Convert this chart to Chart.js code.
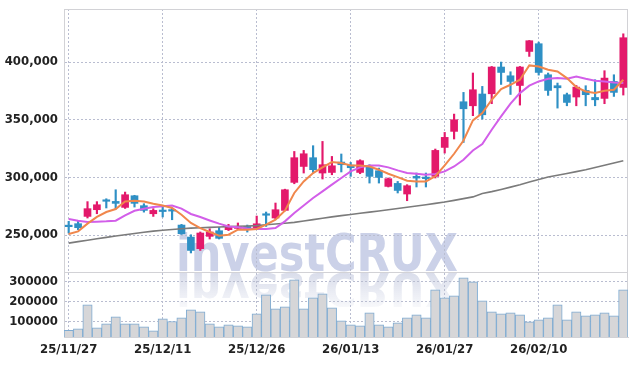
<!DOCTYPE html>
<html><head><meta charset="utf-8">
<script src="https://cdn.jsdelivr.net/npm/chart.js@4.4.1/dist/chart.umd.min.js"></script>
<style>html,body{margin:0;padding:0;background:#fff}#wrap{width:637px;height:366px}</style>
</head><body><div id="wrap"><canvas id="c" width="637" height="366"></canvas></div>
<script>
const dates = ['25/11/27','25/11/28','25/12/01','25/12/02','25/12/03','25/12/04','25/12/05','25/12/08','25/12/09','25/12/10',
'25/12/11','25/12/12','25/12/15','25/12/16','25/12/17','25/12/18','25/12/19','25/12/22','25/12/23','25/12/24',
'25/12/26','25/12/29','25/12/30','26/01/02','26/01/05','26/01/06','26/01/07','26/01/08','26/01/09','26/01/12',
'26/01/13','26/01/14','26/01/15','26/01/16','26/01/19','26/01/20','26/01/21','26/01/22','26/01/23','26/01/26',
'26/01/27','26/01/28','26/01/29','26/01/30','26/02/02','26/02/03','26/02/04','26/02/05','26/02/06','26/02/09',
'26/02/10','26/02/11','26/02/12','26/02/13','26/02/19','26/02/20','26/02/23','26/02/24','26/02/25','26/02/26'];
const opens = [257800,259900,266200,272000,279800,279200,274000,284100,275500,268500,
271000,271300,258700,248300,238200,248900,253800,254700,255800,257500,
255600,267800,264800,271400,295700,309500,317100,303800,304300,313300,
310700,304300,309000,305800,292200,294800,285600,300900,300300,300900,
326000,339900,365600,362100,372300,372500,395700,388100,379700,409200,
415900,389000,379500,371700,369700,375400,369300,368500,383200,378000];
const highs = [261900,262700,279000,279000,281500,289300,287300,284500,277200,272900,
274300,273500,259300,250300,252700,255500,256700,259300,260500,258700,
266500,270000,277800,289800,322500,323400,327500,331200,318200,320300,
313000,315300,311000,308100,299500,296500,293700,303800,303800,324600,
339000,354900,373700,390500,378900,396200,400000,391600,396200,418700,
417300,390500,381800,373100,379700,379500,384700,392500,389000,424500];
const lows = [251800,254700,264800,268500,273500,272600,273100,274300,269900,266200,
265700,263300,250600,234500,236700,246600,246600,253900,254700,252600,
254700,257500,264000,270900,294500,303800,304300,298600,302300,304700,
300900,303200,295100,295100,291700,286500,279800,291700,291700,299500,
321100,333300,330300,353500,350600,363900,380600,371900,362700,404900,
388700,371100,360100,362100,362100,362100,362100,363900,370200,371400];
const closes = [257300,256400,272900,276300,279300,277500,285000,277500,271400,271400,
270400,270800,251200,236700,251800,252700,247200,257000,257500,254700,
259800,267200,272000,289300,317100,320500,306700,311000,310100,311000,
308400,314500,300900,300000,298900,288700,292800,299400,298900,323400,
334700,350000,359500,376000,354300,395700,391000,383200,395700,418500,
391000,375400,377700,365000,378300,371700,367300,386100,373700,421100];
const volumes = [54300,61400,183200,66500,86800,122300,86800,86800,71600,51300,
112200,98500,117200,157800,147700,86800,71600,81700,76600,71600,
137500,234000,162900,173100,310200,162900,218800,239000,168000,102000,
81700,76600,142600,81700,71600,91900,117200,132500,117200,259400,
218800,228900,320300,300000,203600,147700,137500,142600,132500,96900,
107100,117200,183200,107100,147700,127400,132500,142600,127400,259400];
const ma5 = [251000,253200,259900,265700,270000,272600,279200,279800,279200,277200,
275700,273500,267700,260500,256100,252700,249500,250300,254700,254700,
255300,259000,263300,271100,286500,296500,303800,308700,313300,312500,
310400,310400,309500,306700,303200,300300,297100,296500,296500,301000,
310400,320500,332000,349400,355800,367300,376600,380300,384700,397100,
396200,393300,391900,386100,378300,374500,373100,375100,376000,384700];
const ma10 = [264000,262500,261400,261600,261900,262500,267100,271100,272900,274300,
274900,275700,272900,268300,265700,262700,259900,257500,256700,255800,
255300,255300,256100,261900,269100,275700,282100,287900,293700,299500,
305200,308700,310400,310400,308700,306100,303800,303200,302300,303000,
305200,309500,315300,323400,328900,341300,352900,363900,373100,379500,
383200,385500,386100,385500,387500,385500,383800,383200,382300,381800];
const ma60 = [243000,244300,245500,246800,248000,249200,250300,251400,252400,253400,
254200,254900,255500,256000,256400,256700,257000,257300,257600,257900,
258200,258900,259600,260300,261000,262200,263400,264600,265800,266900,
267900,268900,269900,270900,272000,273100,274200,275200,276300,277500,
278700,280100,281600,283100,286000,287700,289600,291600,293700,296000,
298200,300300,301800,303400,305000,306700,308600,310500,312500,314500];
const priceTicks = [250000,300000,350000,400000];
const volumeTicks = [100000,200000,300000];
const labelEvery = 10;

const UP = '#e3196b', DOWN = '#2f90c5';
const GRID = '#b9bdd0', FRAME = '#d2d2d6';
const FONT = {family: '"DejaVu Sans Condensed","DejaVu Sans",sans-serif', size: 13, weight: 'bold'};
const candleColor = ctx => closes[ctx.dataIndex] >= opens[ctx.dataIndex] ? UP : DOWN;
const noPad = a => { a.paddingTop = 0; a.paddingBottom = 0; a.paddingLeft = 0; a.paddingRight = 0; };

const WM_FONT = 'bold 52px "DejaVu Sans","Liberation Sans",sans-serif';
const watermark = {
  id: 'watermark',
  beforeDraw(chart) {
    const ctx = chart.ctx;
    const text = 'investCRUX';
    ctx.save();
    ctx.font = WM_FONT;
    const w = ctx.measureText(text).width;
    const sx = 282 / w;
    ctx.translate(176, 271);
    ctx.scale(sx, 1);
    ctx.fillStyle = '#cbd1e8';
    ctx.textBaseline = 'alphabetic';
    ctx.fillText(text, 0, 0);
    ctx.restore();
    ctx.save();
    ctx.beginPath();
    ctx.rect(0, 273, chart.width, 34);
    ctx.clip();
    ctx.font = WM_FONT;
    ctx.translate(176, 273);
    ctx.scale(sx, -0.9);
    const g = ctx.createLinearGradient(0, 0, 0, -38);
    g.addColorStop(0, 'rgba(205,210,228,0.75)');
    g.addColorStop(1, 'rgba(205,210,228,0.15)');
    ctx.fillStyle = g;
    ctx.fillText(text, 0, 0);
    ctx.restore();
  }
};
const frame = {
  id: 'frame',
  beforeDatasetsDraw(chart) {
    const ctx = chart.ctx, a = chart.chartArea, py = chart.scales.y;
    ctx.save();
    ctx.strokeStyle = FRAME;
    ctx.lineWidth = 1;
    ctx.beginPath();
    ctx.moveTo(a.left, a.top + 0.5); ctx.lineTo(a.right, a.top + 0.5);
    ctx.moveTo(a.right - 0.5, a.top); ctx.lineTo(a.right - 0.5, a.bottom);
    ctx.moveTo(a.left, Math.round(py.bottom) + 0.5); ctx.lineTo(a.right, Math.round(py.bottom) + 0.5);
    ctx.stroke();
    ctx.restore();
  }
};

new Chart(document.getElementById('c'), {
  data: {
    labels: dates,
    datasets: [
      {type: 'line', data: ma5, yAxisID: 'y', borderColor: '#f0874c', borderWidth: 2, pointRadius: 0, tension: 0},
      {type: 'line', data: ma10, yAxisID: 'y', borderColor: '#d25ee9', borderWidth: 2, pointRadius: 0, tension: 0},
      {type: 'line', data: ma60, yAxisID: 'y', borderColor: '#7b7b7b', borderWidth: 1.6, pointRadius: 0, tension: 0},
      {type: 'bar', data: opens.map((o, i) => [o, closes[i]]), yAxisID: 'y', grouped: false, barThickness: 7,
        minBarLength: 1.5, backgroundColor: candleColor, borderWidth: 0},
      {type: 'bar', data: lows.map((l, i) => [l, highs[i]]), yAxisID: 'y', grouped: false, barThickness: 1.5,
        backgroundColor: candleColor, borderWidth: 0},
      {type: 'bar', data: volumes, yAxisID: 'yv', grouped: false, barPercentage: 1, categoryPercentage: 1,
        backgroundColor: '#d6d6d8', borderColor: '#7eabd2', borderWidth: 1}
    ]
  },
  options: {
    responsive: false, animation: false, events: [],
    layout: {padding: {top: 9, right: 9, left: 0, bottom: 0}},
    plugins: {legend: {display: false}, tooltip: {enabled: false}},
    scales: {
      x: {
        type: 'category', offset: true,
        grid: {offset: false, drawTicks: false, color: c => (c.index % labelEvery === 0 ? GRID : 'rgba(0,0,0,0)')},
        border: {display: true, color: FRAME, dash: [2, 2]},
        ticks: {autoSkip: false, maxRotation: 0, minRotation: 0, padding: 5, color: '#222', font: FONT,
          callback: (v, i) => (i % labelEvery === 0 ? dates[i] : '')},
        afterFit: a => { a.height = 29; noPad(a); }
      },
      yv: {
        type: 'linear', position: 'left', stack: 'panels', stackWeight: 65, min: 20000, max: 350000,
        afterBuildTicks: a => { a.ticks = volumeTicks.map(v => ({value: v})); },
        grid: {drawTicks: false, color: GRID},
        border: {display: true, color: FRAME, dash: [2, 2]},
        ticks: {autoSkip: false, padding: 6, color: '#222', font: FONT, callback: v => String(v)},
        afterFit: a => { a.width = 64; noPad(a); }
      },
      y: {
        type: 'linear', position: 'left', stack: 'panels', stackWeight: 263, min: 218000, max: 446000,
        afterBuildTicks: a => { a.ticks = priceTicks.map(v => ({value: v})); },
        grid: {drawTicks: false, color: GRID},
        border: {display: true, color: FRAME, dash: [2, 2]},
        ticks: {autoSkip: false, padding: 6, color: '#222', font: FONT, callback: v => Number(v).toLocaleString('en-US')},
        afterFit: a => { a.width = 64; noPad(a); }
      }
    }
  },
  plugins: [watermark, frame]
});
</script></body></html>
